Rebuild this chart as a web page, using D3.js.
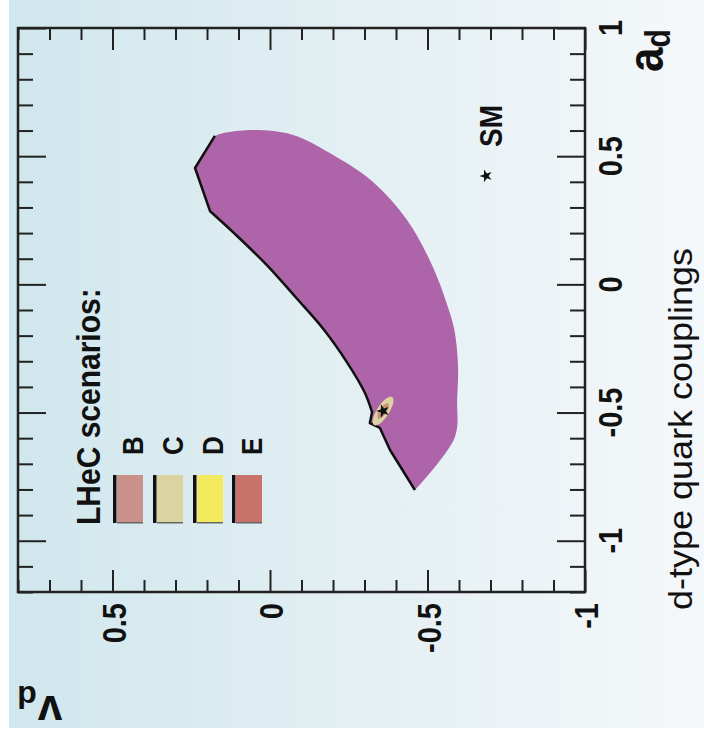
<!DOCTYPE html>
<html><head><meta charset="utf-8">
<script src="https://cdn.jsdelivr.net/npm/d3@7"></script>
<style>html,body{margin:0;padding:0;background:#fff;}svg{display:block;}</style>
</head><body>
<script>
// ---- data (v_d horizontal, reversed; a_d vertical) ----
const vdDomain = [0.8, -1.0];
const adDomain = [1.0, -1.2];
const vdTickLabels = ["0.5", "0", "-0.5", "-1"];
const vdTickValues = [0.5, 0, -0.5, -1];
const adTickLabels = ["1", "0.5", "0", "-0.5", "-1"];
const adTickValues = [1, 0.5, 0, -0.5, -1];

// allowed region (purple): smooth outer edge, then outlined inner edge
const upperVd = [0.175, 0.159, 0.054, -0.073, -0.190, -0.327, -0.435, -0.517, -0.571, -0.587, -0.597, -0.594, -0.587, -0.460];
const upperAd = [0.579, 0.587, 0.602, 0.583, 0.512, 0.399, 0.251, 0.068, -0.112, -0.190, -0.322, -0.451, -0.595, -0.802];
// outlined edge: bottom tip -> notch near SM point
const lowerVdA = [-0.460, -0.381, -0.349, -0.317, -0.324];
const lowerAdA = [-0.802, -0.646, -0.560, -0.541, -0.498];
// outlined edge: notch -> top corner (smooth)
const lowerVdB = [-0.324, -0.300, -0.245, -0.170, -0.085, 0.010, 0.110, 0.190];
const lowerAdB = [-0.498, -0.420, -0.305, -0.175, -0.055, 0.075, 0.195, 0.285];
// top corner
const cornerVd = [0.190, 0.238, 0.175];
const cornerAd = [0.285, 0.454, 0.579];

// LHeC scenario contours (ellipses around the SM point)
const scenarios = ["B", "C", "D", "E"];
const scenarioColors = ["#c99189", "#dbd3a0", "#f2ea5c", "#c9726a"];
const contourCenter = [-0.359, -0.494];
const contourAxisU = [-0.0286, 0.0546];
const contourAxisW = [-0.0162, -0.0129];
const contourScale = { C: 1.0, B: 0.55, E: 0.35, D: 0.25 };

// SM legend point
const smPoint = [-0.686, 0.423];

// ---- drawing ----
const W = 704, H = 744;
const FONT = "Liberation Sans, Arial, Helvetica, sans-serif";
const svg = d3.select("body").append("svg").attr("width", W).attr("height", H);
const defs = svg.append("defs");
const grad = defs.append("linearGradient").attr("id", "bg").attr("x1", "0").attr("x2", "1").attr("y1", "0").attr("y2", "0");
grad.append("stop").attr("offset", "0").attr("stop-color", "#d0e7ed");
grad.append("stop").attr("offset", "0.5").attr("stop-color", "#e3eff3");
grad.append("stop").attr("offset", "1").attr("stop-color", "#f5f8fa");
svg.append("rect").attr("x", 9).attr("y", 0).attr("width", W - 9).attr("height", 728).attr("fill", "url(#bg)");

const L = 18, R = 585, T = 28, B = 592;
const x = d3.scaleLinear().domain(vdDomain).range([L, R]);
const y = d3.scaleLinear().domain(adDomain).range([T, B]);

const toPts = (vs, as) => vs.map((v, i) => [x(v), y(as[i])]);
const upperPts = toPts(upperVd, upperAd);
const lowA = toPts(lowerVdA, lowerAdA);
const lowB = toPts(lowerVdB, lowerAdB);
const corner = toPts(cornerVd, cornerAd);

const smooth = d3.line().curve(d3.curveCatmullRom);
const lin = d3.line();
const tail = (d) => d.replace(/^M[^A-Za-z]*/, "");
const outlineD = lin(lowA) + tail(smooth(lowB)) + tail(lin(corner));

// region fill
svg.append("path").attr("d", smooth(upperPts) + outlineD.replace(/^M/, "L") + "Z").attr("fill", "#ad64a9");
// outline on inner edge
svg.append("path").attr("d", outlineD).attr("fill", "none").attr("stroke", "#111")
  .attr("stroke-width", 2.5).attr("stroke-linejoin", "round");

// contours
const order = ["C", "B", "E", "D"];
const ts = d3.range(0, 2 * Math.PI + 0.001, Math.PI / 36);
order.forEach(k => {
  const s = contourScale[k];
  const pts = ts.map(t => [
    x(contourCenter[0] + s * (contourAxisU[0] * Math.cos(t) + contourAxisW[0] * Math.sin(t))),
    y(contourCenter[1] + s * (contourAxisU[1] * Math.cos(t) + contourAxisW[1] * Math.sin(t)))
  ]);
  svg.append("path").attr("d", d3.line()(pts) + "Z")
    .attr("fill", scenarioColors[scenarios.indexOf(k)]);
});

const star = d3.symbol().type(d3.symbolStar);
svg.append("path").attr("d", star.size(55)())
  .attr("transform", `translate(${x(contourCenter[0])},${y(contourCenter[1])}) rotate(-90)`).attr("fill", "#111");
svg.append("path").attr("d", star.size(50)())
  .attr("transform", `translate(${x(smPoint[0])},${y(smPoint[1])}) rotate(-90)`).attr("fill", "#111");

// axes ticks (inward, all four sides)
function minorVals(dom, step) {
  const lo = Math.min(...dom), hi = Math.max(...dom);
  return d3.range(Math.round(lo / step), Math.round(hi / step) + 1).map(i => +(i * step).toFixed(2))
    .filter(v => Math.abs(v * 2 - Math.round(v * 2)) > 1e-6);
}
const vdMinor = minorVals(vdDomain, 0.1);
const adMinor = minorVals(adDomain, 0.1);
function addAxis(gen, tr, vals, size) {
  const g = svg.append("g").attr("transform", tr)
    .call(gen.tickValues(vals).tickSize(size).tickSizeOuter(0).tickFormat(""));
  g.select(".domain").remove();
  g.selectAll("line").attr("stroke", "#222").attr("stroke-width", 2);
}
addAxis(d3.axisBottom(x), `translate(0,${B})`, vdTickValues, -22);
addAxis(d3.axisBottom(x), `translate(0,${B})`, vdMinor, -12);
addAxis(d3.axisTop(x), `translate(0,${T})`, vdTickValues, -22);
addAxis(d3.axisTop(x), `translate(0,${T})`, vdMinor, -12);
addAxis(d3.axisLeft(y), `translate(${L},0)`, adTickValues, -28);
addAxis(d3.axisLeft(y), `translate(${L},0)`, adMinor, -15);
addAxis(d3.axisRight(y), `translate(${R},0)`, adTickValues, -28);
addAxis(d3.axisRight(y), `translate(${R},0)`, adMinor, -15);
svg.append("rect").attr("x", L).attr("y", T).attr("width", R - L).attr("height", B - T)
  .attr("fill", "none").attr("stroke", "#222").attr("stroke-width", 2.5);

// rotated text helper
function rtext(px, py, str, size, weight, anchor, sx, angle) {
  return svg.append("text")
    .attr("transform", `translate(${px},${py}) scale(${sx},1) rotate(${angle === undefined ? -90 : angle})`)
    .attr("font-family", FONT)
    .attr("font-size", size).attr("font-weight", weight)
    .attr("text-anchor", anchor).attr("fill", "#111").text(str);
}
vdTickValues.forEach((v, i) => rtext(x(v) + 13, 603, vdTickLabels[i], 29, "bold", "end", 1.15));
adTickValues.forEach((v, i) => rtext(622, y(v), adTickLabels[i], 29, "bold", "middle", 1.15));

// axis titles
const ad = svg.append("text")
  .attr("transform", `translate(663,72) scale(1.15,1) rotate(-90)`)
  .attr("font-family", FONT).attr("font-weight", "bold").attr("fill", "#111");
ad.append("tspan").attr("font-size", 44).text("a");
ad.append("tspan").attr("font-size", 30).attr("dy", 6).text("d");

rtext(692, 610, "d-type quark couplings", 36, "normal", "start", 0.92);

// v_d title, upside down (each glyph placed explicitly)
rtext(50, 696, "v", 44, "bold", "middle", 1, 180);
rtext(27, 686, "d", 32, "bold", "middle", 1, 180);

// legend
rtext(100, 525, "LHeC scenarios:", 30, "bold", "start", 1.12);
const swX = [113, 153, 193, 232];
scenarios.forEach((s, i) => {
  svg.append("rect").attr("x", swX[i] + 4).attr("y", 475).attr("width", 26).attr("height", 48).attr("fill", scenarioColors[i]);
  svg.append("rect").attr("x", swX[i] + 4).attr("y", 522).attr("width", 26).attr("height", 1.5).attr("fill", "#666");
  svg.append("rect").attr("x", swX[i]).attr("y", 475).attr("width", 3.5).attr("height", 48).attr("fill", "#111");
  rtext(swX[i] + 30, 455, s, 26, "bold", "start", 1.15);
});
rtext(502, 147, "SM", 28, "bold", "start", 1.1);
</script>
</body></html>
